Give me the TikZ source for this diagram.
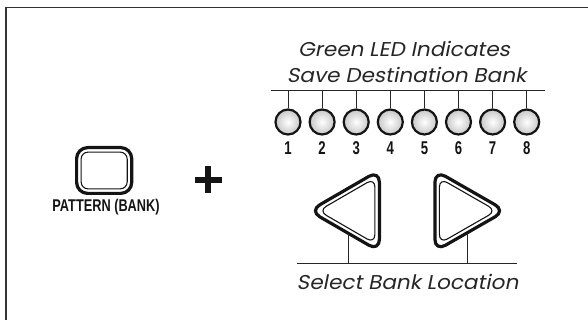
\documentclass[tikz,border=0pt]{standalone}
\usepackage{fontspec}
\newfontfamily\gfont[FakeSlant=0.2,FakeStretch=1.08]{Poppins}
\newfontfamily\cfont[FakeStretch=0.71]{Liberation Sans}
\newfontfamily\lfont[FakeStretch=0.75]{Liberation Sans}
\begin{document}
\begin{tikzpicture}[x=1pt,y=-1pt,
  frame/.style={line width=1.4pt, draw=black!80},
  thinline/.style={line width=1pt, draw=black!85},
  btnouter/.style={line width=3.2pt, draw=black!92, rounded corners=12pt, line join=round},
  btninner/.style={line width=1.1pt, draw=black!92, rounded corners=9pt},
  ledstyle/.style={circle, draw=black!92, line width=2.2pt, minimum size=25pt, inner sep=0pt, inner color=white, outer color=black!22},
  numstyle/.style={font=\cfont\bfseries\fontsize{18.5}{18.5}\selectfont, text=black!92, inner sep=0pt},
  capstyle/.style={font=\gfont\fontsize{20}{22}\selectfont, text=black!85, inner sep=0pt},
  lblstyle/.style={font=\lfont\bfseries\fontsize{17}{17}\selectfont, text=black!92, inner sep=0pt}
]
\useasboundingbox (0,0) rectangle (588,320);
% frame
\draw[frame] (6,320) -- (6,7.3) -- (588,7.3);

% captions
\node[capstyle] (cap1) at (404,49.3) {Green LED Indicates};
\node[capstyle] (cap2) at (406.5,75) {Save Destination Bank};

% LED line
\coordinate (la) at (270.7,90.7);
\coordinate (lb) at (544.5,90.7);
\draw[thinline] (la) -- (lb);

\foreach \i in {1,...,8} {
  \node[ledstyle] (led\i) at ({288+34.1*(\i-1)},122) {};
  \node[numstyle] (n\i) at ({288+34.1*(\i-1)},148.3) {\i};
  \draw[thinline] (led\i.north) -- (led\i.north |- la);
}

% pattern button
\node[draw=black!92, line width=3.2pt, rounded corners=11pt, minimum width=55.1pt, minimum height=45.8pt, inner sep=0pt] (pat) at (104.15,170.5) {};
\node[draw=black!92, line width=1.1pt, rounded corners=7pt, minimum width=46.1pt, minimum height=36.8pt, inner sep=0pt] (patin) at (104.15,170.5) {};
\node[lblstyle] (patl) at (106,207.2) {PATTERN (BANK)};

% plus
\draw[line width=5.5pt, black!92] (194.5,180) -- (221.5,180);
\draw[line width=5.5pt, black!92] (208,166.5) -- (208,193.5);

% left triangle button
\draw[btnouter] (309.4,210.8) -- (379.4,170.3) -- (379.4,251.3) -- cycle;
\draw[btninner] (318.4,210.8) -- (374.9,178.1) -- (374.9,243.5) -- cycle;
% right triangle button
\draw[btnouter] (505.6,210.8) -- (434.9,170.3) -- (434.9,251.3) -- cycle;
\draw[btninner] (496.5,210.8) -- (439.4,178.1) -- (439.4,243.5) -- cycle;

% bottom line and ticks
\coordinate (ba) at (296.7,263.3);
\coordinate (bb) at (516.7,263.3);
\draw[thinline] (ba) -- (bb);
\coordinate (lt) at (348.3,234);
\coordinate (rt) at (467.7,233);
\draw[thinline] (lt) -- (lt |- ba);
\draw[thinline] (rt) -- (rt |- ba);

\node[capstyle] (cap3) at (407.5,281.7) {Select Bank Location};
\end{tikzpicture}
\end{document}
